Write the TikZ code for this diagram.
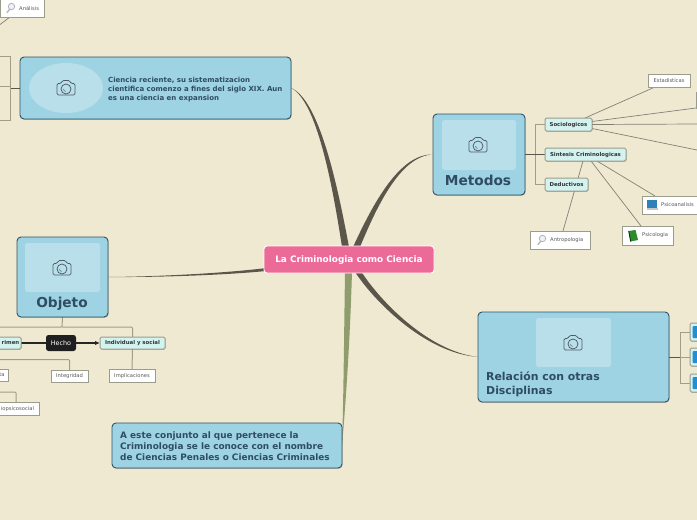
\documentclass[tikz,border=0pt]{standalone}
\usepackage{fontspec}
\setmainfont{DejaVu Sans}
\usetikzlibrary{backgrounds,shadows,arrows.meta,calc,shapes.geometric}
\definecolor{paper}{HTML}{F0E9D2}
\definecolor{topicblue}{HTML}{9DD3E3}
\definecolor{paneblue}{HTML}{B9E0EA}
\definecolor{inkblue}{HTML}{2F4C62}
\definecolor{edgeblue}{HTML}{2F5166}
\definecolor{rootpink}{HTML}{EC6A97}
\definecolor{branchdark}{HTML}{5A574A}
\definecolor{branchgreen}{HTML}{8F9D6D}
\definecolor{stem}{HTML}{A39D88}
\definecolor{subcyan}{HTML}{D3F3F1}
\definecolor{subedge}{HTML}{9C9C8C}
\definecolor{camgrey}{HTML}{4B5B68}
\definecolor{iconblue}{HTML}{2F7FB8}
\definecolor{tabblue}{HTML}{1E90D8}
\definecolor{bookgreen}{HTML}{2E8B2E}
\tikzset{
  x=1pt,y=-1pt,
  softshadow/.style={drop shadow={shadow xshift=0.6pt,shadow yshift=-0.8pt,opacity=.22,fill=black}},
  topicbox/.style={draw=edgeblue,line width=.9pt,fill=topicblue,rounded corners=4pt,softshadow},
  panebox/.style={fill=paneblue,rounded corners=2.5pt},
  subbox/.style={draw=subedge,line width=1pt,fill=subcyan,rounded corners=1.5pt,softshadow,font=\fontsize{5.4}{6}\selectfont\bfseries,text=black!80,text height=4.3pt,text depth=1.1pt},
  leafbox/.style={draw=subedge,line width=1pt,fill=white,softshadow,font=\fontsize{5.2}{6}\selectfont,text=black!65,text height=4.3pt,text depth=1.1pt},
  leaftext/.style={inner sep=0pt,anchor=west,font=\fontsize{5.2}{6}\selectfont,text=black!65},
  rootbox/.style={draw=white,line width=.9pt,fill=rootpink,rounded corners=3pt,text=white,font=\fontsize{8.9}{11}\selectfont\bfseries,text height=7pt,text depth=2pt},
  darkbox/.style={fill=black!88,rounded corners=2.5pt,text=white,font=\fontsize{6.4}{8}\selectfont},
  title/.style={text=inkblue,font=\fontsize{13.7}{16}\selectfont\bfseries,inner sep=0pt,anchor=base},
  topictext/.style={text=inkblue,align=left,anchor=west,inner sep=0pt},
  stemline/.style={draw=stem,line width=1pt},
  trunk/.style={draw=branchdark,line width=.8pt},
  leafline/.style={draw=branchdark!75,line width=.7pt},
  branch/.style={fill=branchdark},
  camera/.pic={
    \draw[camgrey,line width=.75pt,line join=round,rounded corners=1.3pt]
      (-9,-4.5) -- (-5,-4.5) -- (-3.5,-7.5) -- (3.5,-7.5) -- (5,-4.5) -- (9,-4.5) -- (9,7) -- (-9,7) -- cycle;
    \draw[camgrey,line width=.75pt] (0,1) circle (5);
    \draw[camgrey,line width=.5pt] (-2.5,1) arc[start angle=180,end angle=100,radius=2.5];
  },
  glass/.pic={
    \draw[black!28,line width=1.4pt,line cap=round] (-3,4.5) -- (-.5,1.5);
    \draw[black!30,fill=blue!6,line width=.8pt] (1.5,-1.5) circle (3.2);
  },
}
\newcommand{\nbox}[7][]{%
  \pgfmathsetmacro{\bw}{#5-#3}\pgfmathsetmacro{\bh}{#6-#4}%
  \pgfmathsetmacro{\bx}{(#5+#3)/2}\pgfmathsetmacro{\by}{(#6+#4)/2}%
  \node[#1,minimum width=\bw pt,minimum height=\bh pt,inner sep=0pt,outer sep=0pt] (#2) at (\bx,\by) {#7};}
\begin{document}
\begin{tikzpicture}
\useasboundingbox (0,0) rectangle (697,520);
% nodes
\nbox[rootbox]{root}{264}{246}{434}{273}{La Criminologia como Ciencia}
% top-left topic
\nbox[topicbox]{reciente}{20}{57}{291}{119}{}
\node[fill=paneblue,draw=none,ellipse,minimum width=74pt,minimum height=50pt,inner sep=0pt] (recpane) at (66,88) {};
\pic at (66,88) {camera};
\node[topictext,font=\fontsize{7}{8.7}\selectfont\bfseries] (rectext) at (108,89.5) {Ciencia reciente, su sistematizacion\\cientifica comenzo a fines del siglo XIX. Aun\\es una ciencia en expansion};
% metodos
\nbox[topicbox]{metodos}{433}{114}{525}{195}{}
\nbox[panebox]{metpane}{442}{120}{516}{170}{}
\pic at (478,145) {camera};
\node[title] (mettext) at (478,185.5) {Metodos};
% objeto
\nbox[topicbox]{objeto}{17}{237}{108}{317}{}
\nbox[panebox]{objpane}{25}{243}{100}{292}{}
\pic at (62,268) {camera};
\node[title] (objtext) at (62,307.5) {Objeto};
% relacion
\nbox[topicbox]{relacion}{478}{312}{669}{402}{}
\nbox[panebox]{relpane}{536}{318}{611}{367}{}
\pic at (573,343) {camera};
\node[topictext,font=\fontsize{10.9}{14}\selectfont\bfseries] (reltext) at (486,384) {Relación con otras\\Disciplinas};
% conjunto
\nbox[topicbox]{conjunto}{112}{423}{342}{468}{}
\node[topictext,font=\fontsize{8.9}{11}\selectfont\bfseries] (context) at (120,446) {A este conjunto al que pertenece la\\Criminologia se le conoce con el nombre\\de Ciencias Penales o Ciencias Criminales};
% metodos subtopics
\nbox[subbox]{socio}{545}{118}{592}{131}{Sociologicos}
\nbox[subbox]{sintesis}{545}{148}{626}{161}{Sintesis Criminologicas}
\nbox[subbox]{deduct}{545}{178}{588}{191}{Deductivos}
\nbox[leafbox]{estad}{648}{74}{690}{87}{Estadisticas}
\nbox[leafbox]{offa}{696}{92}{710}{108}{}
\coordinate (offb) at (697,124);
\coordinate (offc) at (697,150);
\nbox[leafbox]{psicoan}{642}{196}{710}{214}{}
\node[leaftext] (psicoantext) at (661,205) {Psicoanalisis};
\nbox[leafbox]{psico}{622}{226}{673}{245}{}
\node[leaftext] (psicotext) at (642,235.5) {Psicologia};
\nbox[leafbox]{antro}{530}{231}{590}{249}{}
\node[leaftext] (antrotext) at (550,240.5) {Antropologia};
\pic at (541,240) {glass};
% monitor icon
\fill[iconblue] (647,200) rectangle (657,208);
\fill[black!22] (646.5,208) rectangle (657.5,209.5);
% book icon
\fill[bookgreen] (628.5,231) -- (635.5,230) -- (638,240) -- (630.5,241.5) -- cycle;
\draw[black!70!bookgreen,line width=.8pt] (628.7,231) -- (630.7,241.5);
% objeto children
\nbox[subbox]{crimen}{-12}{337}{21}{349}{\hspace*{12pt}rimen}
\nbox[darkbox]{hecho}{46}{335}{76}{351}{Hecho}
\nbox[subbox]{indiv}{100}{337}{165}{349}{Individual y social}
\nbox[leafbox]{implic}{109}{369}{155}{382}{Implicaciones}
\nbox[leafbox]{integ}{51}{370}{88}{382}{Integridad}
\nbox[leafbox]{cutta}{-10}{369}{8.5}{381}{\hspace*{5.5pt}ta}
\nbox[leafbox]{biopsi}{-10}{402}{39.5}{415}{\hspace*{5.5pt}iopsicosocial}
\coordinate (objfork) at (62,327);
\coordinate (objleft) at (-2,327);
\coordinate (crimleft) at (-2,359.5);
\coordinate (biofork) at (-2,392);
% top-left children
\nbox[leafbox]{analisis}{0}{-3}{44}{17}{}
\node[leaftext] (analtext) at (19,8) {Análisis};
\pic at (10,8) {glass};
\coordinate (anallow) at (-2,26);
\coordinate (ta) at (-2,56);
\coordinate (tb) at (-2,86);
\coordinate (tc) at (-2,120);
% relacion children
\nbox[subbox]{rela}{690}{323}{710}{341}{}
\nbox[subbox]{relb}{690}{348}{710}{366}{}
\nbox[subbox]{relc}{690}{374}{710}{392}{}
\fill[tabblue,rounded corners=1pt] (692.5,326) rectangle (700,338);
\fill[tabblue,rounded corners=1pt] (692.5,351) rectangle (700,363);
\fill[tabblue,rounded corners=1pt] (692.5,377) rectangle (700,389);
\begin{pgfonlayer}{background}
\fill[paper] (0,0) rectangle (697,520);
% tapered branches
\coordinate (rt) at (root.north);
\coordinate (rb) at (root.south);
\fill[branch] ($(rt)+(-7,1)$) .. controls (332.5,185) and (316.8,100.6) .. (reciente.east) .. controls (319.2,99.4) and (337.5,185) .. ($(rt)+(0,1)$) -- cycle;
\fill[branch] ($(rt)+(4,1)$) .. controls (373,203.8) and (399.5,153.4) .. (metodos.west) .. controls (400.5,155.6) and (377,206.2) .. ($(rt)+(11,1)$) -- cycle;
\fill[branch] ($(rb)+(6,-1)$) .. controls (376.2,303.8) and (426.6,353.1) .. (relacion.west) .. controls (427.4,350.9) and (379.8,300.2) .. ($(rb)+(12.5,-1)$) -- cycle;
\fill[branch] ($(root.west)+(0,8.8)$) .. controls (225,273) and (160,276.6) .. (objeto.east) .. controls (160,277.4) and (225,275) .. ($(root.west)+(0,11.7)$) -- cycle;
\fill[branchgreen] ($(rb)+(-4,-1)$) .. controls (344,340) and (343.5,400) .. (conjunto.east) .. controls (346,400) and (350,340) .. ($(rb)+(3,-1)$) -- cycle;
% metodos tree
\draw[stemline] (socio.west) -| (535,154);
\draw[stemline] (deduct.west) -| (535,154);
\draw[trunk] (metodos.east) -- (sintesis.west);
\draw[leafline] (585,118) -- ($(estad.south west)+(7,0)$);
\draw[leafline] ($(socio.east)+(0,-3)$) -- (offa.south west);
\draw[leafline] (socio.east) -- (offb);
\draw[leafline] ($(socio.east)+(0,4)$) -- (offc);
\draw[leafline] (597,161) -- ($(psicoan.north west)+(13,0)$);
\draw[leafline] (591,161) -- ($(psico.north west)+(19,0)$);
\draw[leafline] (583,161) -- ($(antro.north)+(3,0)$);
% objeto tree
\draw[stemline,rounded corners=1pt] (objeto.south) -- (objfork) -- (objleft);
\draw[stemline,rounded corners=1pt] (objfork) -| (indiv.north);
\draw[stemline] (indiv.south) -- (implic.north);
\draw[stemline,rounded corners=1pt] (crimleft) -| (integ.north);
\draw[stemline,rounded corners=1pt] (biofork) -| ($(biopsi.north)+(1.25,0)$);
\draw[line width=1.1pt,black!85] (crimen.east) -- (hecho.west);
\draw[line width=1.1pt,black!85,-{Latex[length=5pt,width=4.5pt]}] (hecho.east) -- (indiv.west);
% reciente tree
\draw[stemline] (ta) -| (10.5,88);
\draw[stemline] (tc) -| (10.5,88);
\draw[stemline] (tb) -- (10.5,86);
\draw[trunk] (reciente.west) -- (10.5,88);
\draw[leafline] (10,17) -- (anallow);
% relacion tree
\draw[stemline] (rela.west) -| (680,357);
\draw[stemline] (relc.west) -| (680,357);
\draw[trunk] (relacion.east) -- (680,357);
\draw[stemline] (680,357) -- (relb.west);
\end{pgfonlayer}
\end{tikzpicture}
\end{document}
